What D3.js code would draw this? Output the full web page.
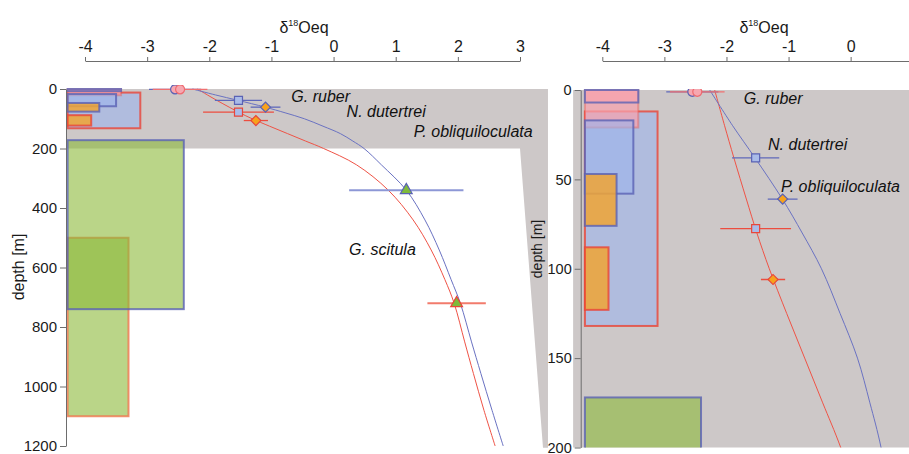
<!DOCTYPE html>
<html><head><meta charset="utf-8">
<script src="https://cdn.jsdelivr.net/npm/d3@7"></script>
<style>body{margin:0;background:#fff}svg{display:block}</style>
</head><body>
<svg id="c" width="909" height="454"></svg>
<script>
// ---------- data ----------
const xTicksL = [-4,-3,-2,-1,0,1,2,3];
const xTicksR = [-4,-3,-2,-1,0];
const yTicksL = [0,200,400,600,800,1000,1200];
const yTicksR = [0,50,100,150,200];

// habitat depth boxes
const boxSpecies = ["G. scitula","G. scitula","N. dutertrei","G. ruber","N. dutertrei","G. ruber","P. obliquiloculata","P. obliquiloculata"];
const boxProfile = ["red","blue","red","red","blue","blue","blue","red"];
const boxTop     = [500,172,12,0,17,0,47,88];
const boxBottom  = [1100,740,132,21,58,7,76,123];
const boxRight   = [-3.30,-2.41,-3.11,-3.42,-3.50,-3.42,-3.77,-3.90];
const boxBase    = -4.28;

// measured δ18O with error
const markSpecies = ["G. ruber","G. ruber","N. dutertrei","N. dutertrei","P. obliquiloculata","P. obliquiloculata","G. scitula","G. scitula"];
const markProfile = ["blue","red","blue","red","blue","red","blue","red"];
const markValue   = [-2.55,-2.47,-1.53,-1.53,-1.095,-1.25,1.17,1.98];
const markDepth   = [1,1,38,77.5,61,106,340,720];
const markErr     = [0.42,0.44,0.38,0.57,0.24,0.195,0.92,0.47];

// equilibrium profiles
const curveDepth = [0,20,38,61,80,100,125,150,175,200,255,340,440,541,640,720,850,956,1080,1200];
const blueCurve  = [-2.27,-1.90,-1.54,-1.10,-0.78,-0.47,-0.17,0.11,0.31,0.49,0.77,1.17,1.47,1.70,1.89,2.04,2.22,2.37,2.55,2.73];
const redCurve   = [-2.19,-2.03,-1.88,-1.68,-1.51,-1.31,-1.03,-0.74,-0.45,-0.16,0.37,0.88,1.28,1.57,1.79,1.94,2.11,2.25,2.42,2.60];

// species labels
const labelText = ["G. ruber","N. dutertrei","P. obliquiloculata","G. scitula"];
const labelL = [[-0.68,43],[0.21,93],[1.29,161],[0.25,558]];   // [δ, depth] of label start (left)
const labelR = [[-1.72,7.7],[-1.33,33.7],[-1.12,57]];            // right panel

// ---------- style ----------
const fillCol = {"G. ruber":"#f7a2ad","N. dutertrei":"#9db4ec","P. obliquiloculata":"#f0a535","G. scitula":"#8cb939"};
const fillOp  = {"G. ruber":0.72,"N. dutertrei":0.6,"P. obliquiloculata":0.85,"G. scitula":0.6};
const strokeCol = {blue:"#5a62b4", red:"#ea4436"};
const gray = "#cdc8c8";

const svg = d3.select("#c");
const defs = svg.append("defs");

const xL = d3.scaleLinear().domain([-4,3]).range([85,520]);
const yL = d3.scaleLinear().domain([0,1200]).range([89,446]);
const xR = d3.scaleLinear().domain([-4,0.94]).range([602.3,909]);
const yR = d3.scaleLinear().domain([0,200]).range([90,447.5]);

// ---------- backgrounds ----------
const leftGray = [[-4.3,0],[3.45,0],[3.45,1206],[3.37,1206],[3.0,200],[-4.3,200]];
svg.append("path")
  .attr("d", d3.line().x(d=>xL(d[0])).y(d=>yL(d[1]))(leftGray)+"Z")
  .attr("fill", gray);
svg.append("rect")
  .attr("x", xR(-4.47)).attr("y", yR(0))
  .attr("width", xR(0.94)-xR(-4.47)).attr("height", yR(200)-yR(0))
  .attr("fill", gray);

function clip(id, x0, y0, x1, y1){
  defs.append("clipPath").attr("id", id).append("rect")
    .attr("x", x0).attr("y", y0).attr("width", x1-x0).attr("height", y1-y0);
}
clip("clipL", 60, 85, 560, 447);
clip("clipR", 573, 89, 909, yR(200));

function drawPanel(x, y, clipId){
  const g = svg.append("g").attr("clip-path", `url(#${clipId})`);
  boxTop.forEach((t,i)=>{
    const sp = boxSpecies[i], pr = boxProfile[i];
    let sc = strokeCol[pr];
    if (sp==="G. scitula" && pr==="red") sc = "#f0764f";
    g.append("rect")
      .attr("x", x(boxBase)).attr("y", y(t))
      .attr("width", x(boxRight[i])-x(boxBase))
      .attr("height", y(boxBottom[i])-y(t))
      .attr("fill", fillCol[sp]).attr("fill-opacity", fillOp[sp])
      .attr("stroke", sc).attr("stroke-width", 2)
      .attr("stroke-opacity", (sp==="G. ruber" && pr==="red") ? 0.35 : 0.8);
  });
  const mk = arr => d3.line().x(d=>x(d[0])).y(d=>y(d[1])).curve(d3.curveCatmullRom.alpha(0.5))(arr.map((v,i)=>[v,curveDepth[i]]));
  g.append("path").attr("d", mk(redCurve)).attr("fill","none").attr("stroke","#ef5346").attr("stroke-width",1);
  g.append("path").attr("d", mk(blueCurve)).attr("fill","none").attr("stroke","#6a72c2").attr("stroke-width",1);
  markValue.forEach((v,i)=>{
    const pr = markProfile[i], sp = markSpecies[i];
    let col = pr==="blue" ? "#5f68ba" : "#ec4d3f", w = 1.3;
    if (sp==="G. scitula") { col = pr==="blue" ? "#8d97d6" : "#f27b6c"; w = 2; }
    if (sp==="G. ruber" && pr==="red") col = "#f07070";
    g.append("line")
      .attr("x1", x(v-markErr[i])).attr("x2", x(v+markErr[i]))
      .attr("y1", y(markDepth[i])).attr("y2", y(markDepth[i]))
      .attr("stroke", col).attr("stroke-width", w);
  });
  markValue.forEach((v,i)=>{
    const pr = markProfile[i], sp = markSpecies[i];
    let sym, size, rot = 0, fill;
    if (sp==="G. ruber"){ sym = d3.symbolCircle; size = 64; fill = "#f6a7b0"; }
    else if (sp==="N. dutertrei"){ sym = d3.symbolSquare; size = 64; fill = "#a9bbe8"; }
    else if (sp==="P. obliquiloculata"){ sym = d3.symbolSquare; size = 50; rot = 45; fill = "#f7a21b"; }
    else { sym = d3.symbolTriangle; size = 60; fill = "#7fba3c"; }
    g.append("path")
      .attr("d", d3.symbol().type(sym).size(size)())
      .attr("transform", `translate(${x(v)},${y(markDepth[i])}) rotate(${rot})`)
      .attr("fill", fill)
      .attr("stroke", pr==="blue" ? "#5a62b4" : (sp==="G. ruber" ? "#ee6b70" : "#e8463a"))
      .attr("stroke-width", 1.2);
  });
  return g;
}
drawPanel(xL, yL, "clipL");
drawPanel(xR, yR, "clipR");

// ---------- axes ----------
function styleAxis(g){
  g.selectAll("path,line").attr("stroke","#6d6d6d").attr("stroke-width",1);
  g.selectAll("text").attr("fill","#1a1a1a").attr("font-family","Liberation Sans, Arial, sans-serif");
}
const fmt = d => String(d);
const axTopL = svg.append("g").attr("transform","translate(0,61)")
  .call(d3.axisTop(xL).tickValues(xTicksL).tickSize(4).tickSizeOuter(0).tickPadding(5).tickFormat(fmt));
axTopL.selectAll("text").attr("font-size",16);
styleAxis(axTopL);
const axTopR = svg.append("g").attr("transform","translate(0,61)")
  .call(d3.axisTop(xR).tickValues(xTicksR).tickSize(4).tickSizeOuter(0).tickPadding(5).tickFormat(fmt));
axTopR.selectAll("text").attr("font-size",16);
styleAxis(axTopR);

const axLL = svg.append("g").attr("transform","translate(66,0)")
  .call(d3.axisLeft(yL).tickValues(yTicksL).tickSize(6).tickSizeOuter(0).tickPadding(3).tickFormat(fmt));
axLL.selectAll("text").attr("font-size",15);
styleAxis(axLL);
const axLR = svg.append("g").attr("transform","translate(580.7,0)")
  .call(d3.axisLeft(yR).tickValues(yTicksR).tickSize(6).tickSizeOuter(0).tickPadding(3).tickFormat(fmt));
axLR.selectAll("text").attr("font-size",14.5);
styleAxis(axLR);

function delta(xc){
  const t = svg.append("text").attr("x", xc).attr("y", 33)
    .attr("text-anchor","middle").attr("font-family","Liberation Sans, Arial, sans-serif")
    .attr("font-size",16).attr("fill","#1a1a1a");
  t.append("tspan").text("δ");
  t.append("tspan").attr("font-size",9).attr("dy",-7).text("18");
  t.append("tspan").attr("dy",7).text("Oeq");
}
delta(304);
delta(764);

function depthTitle(xc, yc, fs){
  svg.append("text").attr("transform",`translate(${xc},${yc}) rotate(-90)`)
    .attr("text-anchor","middle").attr("dy","0.35em")
    .attr("font-family","Liberation Sans, Arial, sans-serif").attr("font-size",fs)
    .attr("fill","#1a1a1a").text("depth [m]");
}
depthTitle(18.5, 267, 16);
depthTitle(537, 249, 14);

function label(x, y, pos, i){
  svg.append("text").attr("x", x(pos[0])).attr("y", y(pos[1]))
    .attr("font-family","Liberation Sans, Arial, sans-serif").attr("font-style","italic")
    .attr("font-size",16).attr("fill","#111").text(labelText[i]);
}
labelL.forEach((p,i)=>label(xL, yL, p, i));
labelR.forEach((p,i)=>label(xR, yR, p, i));
</script>
</body></html>
